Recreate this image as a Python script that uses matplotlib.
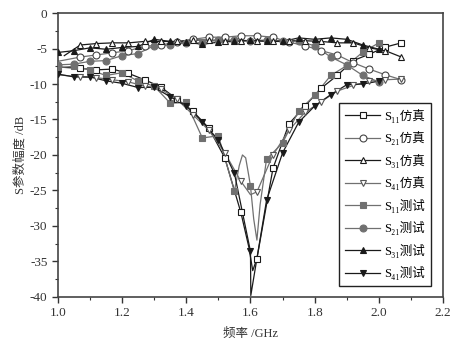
import numpy as np
import matplotlib
matplotlib.use("Agg")
import matplotlib.pyplot as plt
from matplotlib.ticker import MultipleLocator

plt.rcParams['font.family'] = ['Liberation Serif', 'Noto Sans CJK SC', 'DejaVu Sans']
plt.rcParams['axes.unicode_minus'] = False

# marker frequencies (GHz)
f_sim = [1.07, 1.12, 1.17, 1.22, 1.27, 1.32, 1.37, 1.42, 1.47, 1.52, 1.57,
         1.62, 1.67, 1.72, 1.77, 1.82, 1.87, 1.92, 1.97, 2.02, 2.07]
f_meas = [1.00, 1.05, 1.10, 1.15, 1.20, 1.25, 1.30, 1.35, 1.40, 1.45, 1.50,
          1.55, 1.60, 1.65, 1.70, 1.75, 1.80, 1.85, 1.90, 1.95, 2.00]

# simulated (dB)
s11_sim = [-7.8, -8.0, -7.9, -8.5, -9.4, -10.4, -12.1, -13.8, -16.2, -20.4, -28.1,
           -34.6, -21.9, -15.6, -13.1, -10.6, -8.8, -6.7, -5.8, -4.8, -4.2]
s21_sim = [-6.2, -5.9, -5.6, -5.3, -4.7, -4.5, -4.1, -3.7, -3.4, -3.4, -3.2,
           -3.2, -3.4, -4.1, -4.6, -5.3, -5.9, -7.0, -7.9, -8.7, -9.4]
s31_sim = [-4.5, -4.3, -4.2, -4.2, -4.0, -4.0, -4.0, -3.8, -3.8, -3.9, -3.9,
           -3.9, -3.9, -3.9, -3.9, -4.0, -4.2, -4.2, -4.9, -5.3, -6.2]
s41_sim = [-9.0, -9.1, -9.4, -9.7, -10.3, -10.7, -12.1, -14.3, -16.5, -19.7, -23.7,
           -25.2, -20.0, -16.5, -14.0, -12.5, -11.0, -10.2, -9.6, -9.4, -9.3]

# measured (dB)
s11_meas = [-7.7, -7.5, -8.0, -8.8, -8.4, -9.6, -10.3, -12.7, -12.6, -17.6, -17.3,
            -25.1, -24.4, -20.6, -18.3, -13.8, -11.6, -8.8, -7.4, -5.5, -4.2]
s21_meas = [-7.3, -7.2, -6.8, -6.7, -6.0, -5.7, -4.6, -4.5, -4.2, -4.2, -3.8,
            -3.8, -3.9, -3.8, -4.0, -4.0, -4.6, -6.2, -7.3, -8.8, -9.7]
s31_meas = [-5.55, -5.3, -4.9, -5.1, -4.85, -4.7, -3.7, -4.0, -4.1, -4.4, -4.1,
            -4.0, -3.85, -4.0, -4.0, -3.5, -3.7, -3.5, -3.7, -4.5, -5.1]
s41_meas = [-8.6, -9.0, -9.0, -9.55, -9.9, -10.5, -10.45, -11.8, -13.1, -15.3, -17.9,
            -22.6, -33.6, -26.4, -19.7, -15.4, -13.1, -11.5, -10.1, -10.0, -9.6]

# extra line vertices (no marker)
ex = {
    's11_sim': ([1.00, 1.595, 1.607], [-7.6, -33.0, -36.3]),
    's21_sim': ([1.00], [-6.8]),
    's31_sim': ([1.02], [-6.0]),
    's41_sim': ([1.00, 1.60], [-8.7, -25.6]),
    's11_meas': ([1.565, 1.575, 1.585, 1.595, 1.61, 1.62, 1.63], [-21.5, -20.0, -20.4, -23.0, -29.0, -32.0, -27.0]),
    's21_meas': ([], []),
    's31_meas': ([], []),
    's41_meas': ([1.601], [-39.8]),
}

labels = ['S₁₁仿真', 'S₂₁仿真', 'S₃₁仿真', 'S₄₁仿真',
          'S₁₁测试', 'S₂₁测试', 'S₃₁测试', 'S₄₁测试']

black = '#1a1a1a'
gray = '#707070'
series = [
    ('s11_sim', f_sim, s11_sim, 's', black, 'white', black),
    ('s21_sim', f_sim, s21_sim, 'o', gray, 'white', '#444444'),
    ('s31_sim', f_sim, s31_sim, '^', black, 'white', black),
    ('s41_sim', f_sim, s41_sim, 'v', gray, 'white', '#555555'),
    ('s11_meas', f_meas, s11_meas, 's', gray, gray, gray),
    ('s21_meas', f_meas, s21_meas, 'o', gray, gray, gray),
    ('s31_meas', f_meas, s31_meas, '^', black, black, black),
    ('s41_meas', f_meas, s41_meas, 'v', black, black, black),
]

fig = plt.figure(figsize=(4.63, 3.53), dpi=100)
ax = fig.add_axes([0.125, 0.159, 0.832, 0.804])

for (key, f, y, m, lc, fc, ec), lab in zip(series, labels):
    xf = np.concatenate([f, ex[key][0]])
    yf = np.concatenate([y, ex[key][1]])
    order = np.argsort(xf)
    ax.plot(xf[order], yf[order], '-', color=lc, lw=0.9, zorder=2)
    ax.plot(f, y, linestyle='none', marker=m, ms=5, mfc=fc, mec=ec, mew=0.8, zorder=3)
    ax.plot([], [], '-', color=lc, lw=0.9, marker=m, ms=5, mfc=fc, mec=ec, mew=0.8, label=lab)

ax.set_xlim(1.0, 2.2)
ax.set_ylim(-40, 0)
ax.xaxis.set_major_locator(MultipleLocator(0.2))
ax.xaxis.set_minor_locator(MultipleLocator(0.1))
ax.yaxis.set_major_locator(MultipleLocator(5))
ax.yaxis.set_minor_locator(MultipleLocator(2.5))
ax.xaxis.set_major_formatter(plt.FormatStrFormatter('%.1f'))
ax.tick_params(which='both', direction='out', top=False, right=False, labelsize=9.5, colors='#333333')
ax.tick_params(which='major', length=4, width=1)
ax.tick_params(which='minor', length=2.5, width=0.8)
for sp in ax.spines.values():
    sp.set_linewidth(1.2)
    sp.set_color('#444444')

ax.set_xlabel('频率 /GHz', fontsize=9, color='#333333', labelpad=6)
ax.set_ylabel('S参数幅度 /dB', fontsize=9, color='#333333', labelpad=2)

leg = ax.legend(loc='lower right', fontsize=9, handlelength=2.8, labelspacing=0.68,
                handletextpad=0.3, borderpad=0.5, fancybox=False, framealpha=1,
                bbox_to_anchor=(0.985, 0.015))
leg.get_frame().set_edgecolor('#222222')
leg.get_frame().set_linewidth(1.0)

fig.savefig('out.png', dpi=100)
